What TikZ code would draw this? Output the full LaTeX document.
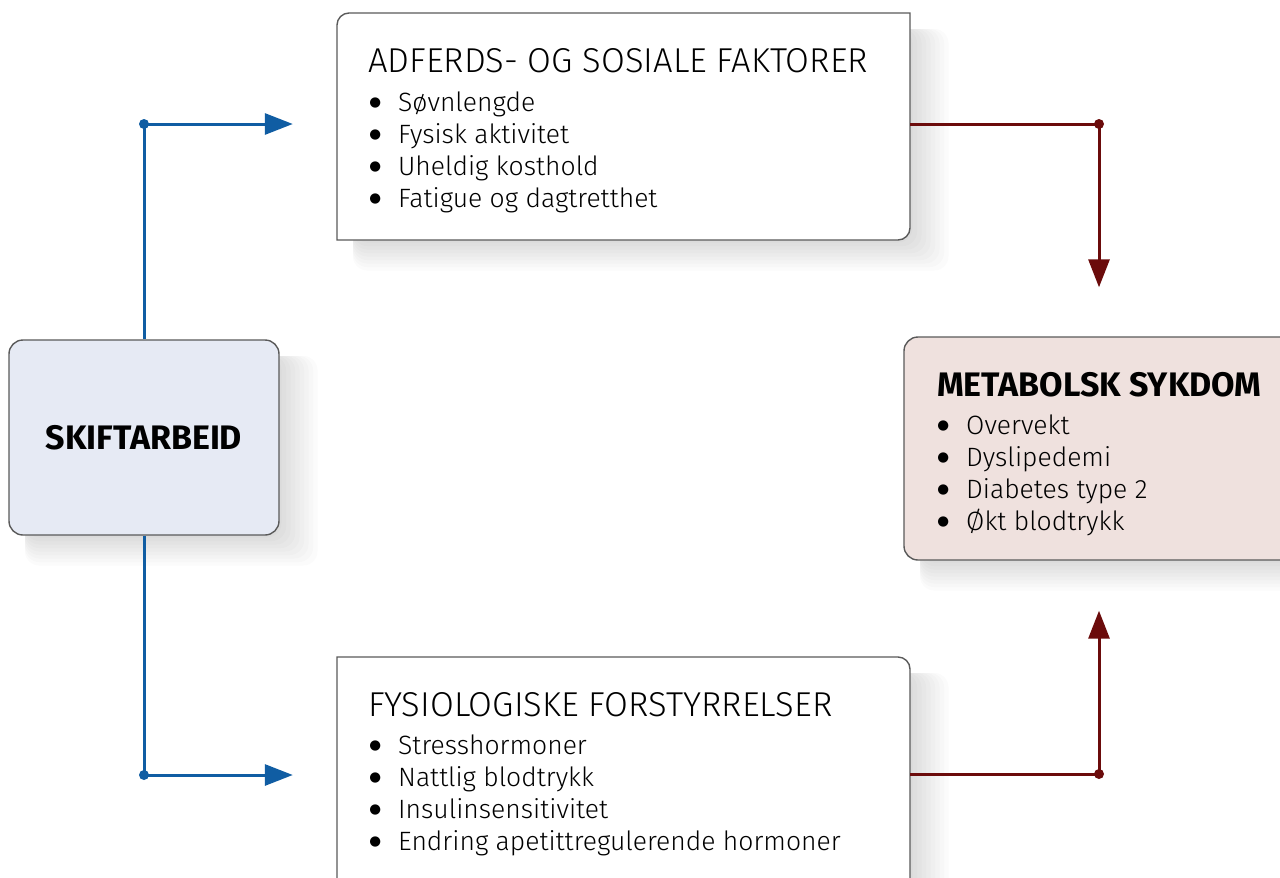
\documentclass[tikz,border=0pt]{standalone}
\usepackage{fontspec}
\setmainfont{Fira Sans}[UprightFont={* Light},BoldFont={* Bold}]
\newfontfamily\dvsans{DejaVu Sans}
\usetikzlibrary{arrows.meta,calc}
\definecolor{arrblue}{HTML}{105DA3}
\definecolor{arrred}{HTML}{6B0B0B}
\definecolor{skfill}{HTML}{E6EAF4}
\definecolor{metfill}{HTML}{EFE1DE}
\definecolor{boxedge}{HTML}{5A5A5A}
\newcommand\myshadow[4]{%
  \foreach \k in {1,...,9}{%
    \fill[black, opacity=0.014, rounded corners=14pt] ({#1+16},{#2+16}) rectangle ({#3+4.5*\k-2},{#4+3.5*\k-1});
  }%
}
\newcommand\blt{\makebox[30pt][l]{\hspace{7pt}\makebox[0pt]{\raisebox{4.3pt}{\dvsans\fontsize{13.5}{14}\selectfont ●}}}}
\begin{document}
\begin{tikzpicture}[x=1pt,y=-1pt,
  boxline/.style={draw=boxedge, line width=1.4pt},
  anchorbox/.style={rectangle, inner sep=0pt, draw=none},
  head/.style={anchor=base west, inner sep=0pt, font=\fontsize{34.5}{40}\selectfont},
  bhead/.style={anchor=base west, inner sep=0pt, font=\fontsize{34}{40}\selectfont\bfseries},
  item/.style={anchor=base west, inner sep=0pt, font=\fontsize{26.5}{32}\selectfont},
  blueconn/.style={draw=arrblue, line width=3pt, -{Triangle[length=28pt,width=21pt]}},
  redconn/.style={draw=arrred, line width=3pt, -{Triangle[length=28pt,width=21pt]}}
]
\useasboundingbox[fill=white] (0,0) rectangle (1280,878);

% shadows
\myshadow{337}{13}{910}{240}
\myshadow{337}{657}{910}{910}
\myshadow{9}{340}{279}{535}
\myshadow{904}{337}{1294}{560}

% boxes
\path[boxline, fill=white] (337,240) -- (337,25) .. controls (337,18.4) and (342.4,13) .. (349,13) -- (910,13) -- (910,228) .. controls (910,234.6) and (904.6,240) .. (898,240) -- cycle;
\path[boxline, fill=white] (337,657) -- (898,657) .. controls (904.6,657) and (910,662.4) .. (910,669) -- (910,910) -- (337,910) -- cycle;
\node[anchorbox, minimum width=573pt, minimum height=227pt] (adf) at (623.5,126.5) {};
\node[anchorbox, minimum width=573pt, minimum height=253pt] (fys) at (623.5,783.5) {};

\node[boxline, fill=skfill, rounded corners=14pt, minimum width=270pt, minimum height=195pt,
      font=\fontsize{34}{40}\selectfont\bfseries] (sk) at (144,437.5) {SKIFTARBEID};
\node[boxline, fill=metfill, rounded corners=14pt, minimum width=390pt, minimum height=223pt] (met) at (1099,448.5) {};

% texts
\node[head] (adfh) at (368,72) {ADFERDS- OG SOSIALE FAKTORER};
\foreach \t [count=\i] in {Søvnlengde, Fysisk aktivitet, Uheldig kosthold, Fatigue og dagtretthet}
  \node[item] (adf\i) at (368,79+32*\i) {\blt\t};

\node[head] (fysh) at (368,716) {FYSIOLOGISKE FORSTYRRELSER};
\foreach \t [count=\i] in {Stresshormoner, Nattlig blodtrykk, Insulinsensitivitet, Endring apetittregulerende hormoner}
  \node[item] (fys\i) at (368,722+32*\i) {\blt\t};

\node[bhead] (meth) at (937,396) {METABOLSK SYKDOM};
\foreach \t [count=\i] in {Overvekt, Dyslipedemi, Diabetes type 2, Økt blodtrykk}
  \node[item] (met\i) at (936,402+32*\i) {\blt\t};

% connectors
\coordinate (adfin) at ($(adf.west)+(-44,-2.5)$);
\coordinate (fysin) at ($(fys.west)+(-44,-8.5)$);
\coordinate (adfout) at ($(adf.east)+(0,-2.5)$);
\coordinate (fysout) at ($(fys.east)+(0,-9.5)$);
\coordinate (metin1) at ($(met.north)+(0,-49)$);
\coordinate (metin2) at ($(met.south)+(0,50)$);

\draw[blueconn] (sk.north) |- (adfin);
\draw[blueconn] (sk.south) |- (fysin);
\fill[arrblue] (sk.north |- adfin) circle (5pt);
\fill[arrblue] (sk.south |- fysin) circle (5pt);

\draw[redconn] (adfout) -| (metin1);
\draw[redconn] (fysout) -| (metin2);
\fill[arrred] (metin1 |- adfout) circle (5pt);
\fill[arrred] (metin2 |- fysout) circle (5pt);
\end{tikzpicture}
\end{document}
